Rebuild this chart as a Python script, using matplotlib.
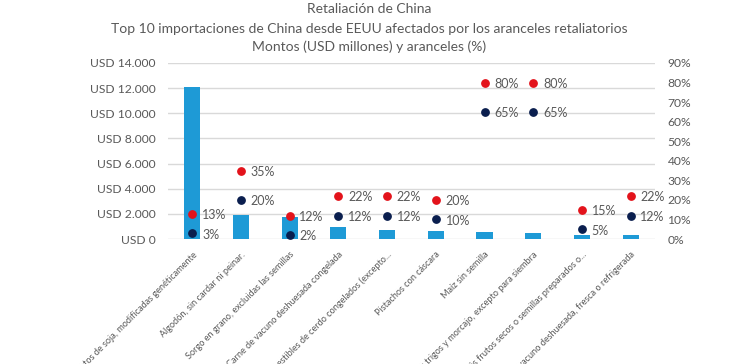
import matplotlib.pyplot as plt
import numpy as np

productos = [
    "Porotos de soja, modificadas genéticamente",
    "Algodón, sin cardar ni peinar.",
    "Sorgo en grano, excluidas las semillas",
    "Carne de vacuno deshuesada congelada",
    "Despojos comestibles de cerdo congelados (excepto...",
    "Pistachos con cáscara",
    "Maíz sin semilla",
    "Los demás trigos y morcajo, excepto para siembra",
    "Los demás frutos secos o semillas preparados o...",
    "Carne de vacuno deshuesada, fresca o refrigerada",
]
montos = [12050, 1900, 1780, 980, 720, 640, 580, 480, 320, 300]
arancel_alto = [13, 35, 12, 22, 22, 20, 80, 80, 15, 22]
arancel_bajo = [3, 20, 2, 12, 12, 10, 65, 65, 5, 12]

gris = "#595959"
azul = "#1E9AD6"
rojo = "#E3131B"
navy = "#0A1E4E"

plt.rcParams['font.family'] = ['Lato', 'DejaVu Sans']

fig = plt.figure(figsize=(7.39, 3.64), dpi=100)
ax = fig.add_axes([0.2273, 0.3434, 0.659, 0.4836])
x = np.arange(len(productos))

ax.bar(x, montos, width=0.33, color=azul, zorder=2)
ax.set_xlim(-0.5, 9.5)
ax.set_ylim(0, 14000)
ax.set_yticks(range(0, 14001, 2000))
ax.set_yticklabels(["USD " + f"{v:,}".replace(",", ".") for v in range(0, 14001, 2000)],
                   color=gris, fontsize=8.7)
ax.yaxis.grid(True, color="#D9D9D9", linewidth=1, zorder=0)
ax.set_axisbelow(True)
for s in ax.spines.values():
    s.set_visible(False)
ax.tick_params(length=0, pad=9)
ax.set_xticks(x)
ax.set_xticklabels(productos, rotation=45, ha='right', rotation_mode='anchor',
                   fontsize=6.6, color=gris)
ax.tick_params(axis='x', pad=8)

ax2 = ax.twinx()
ax2.set_ylim(0, 90)
ax2.set_yticks(range(0, 91, 10))
ax2.set_yticklabels([f"{v}%" for v in range(0, 91, 10)], color=gris, fontsize=8.7)
ax2.tick_params(length=0, pad=9)
for s in ax2.spines.values():
    s.set_visible(False)

ax2.scatter(x, arancel_alto, s=28, color=rojo, zorder=3)
ax2.scatter(x, arancel_bajo, s=28, color=navy, zorder=3)
for xi, a, b in zip(x, arancel_alto, arancel_bajo):
    ax2.annotate(f"{a}%", (xi, a), xytext=(7, -1), textcoords="offset points",
                 va='center', ha='left', fontsize=9, color=gris)
    ax2.annotate(f"{b}%", (xi, b), xytext=(7, -1), textcoords="offset points",
                 va='center', ha='left', fontsize=9, color=gris)

fig.text(0.5, 0.975, "Retaliación de China", ha='center', va='center', fontsize=10, color=gris)
fig.text(0.5, 0.921, "Top 10 importaciones de China desde EEUU afectados por los aranceles retaliatorios",
         ha='center', va='center', fontsize=10, color=gris)
fig.text(0.5, 0.873, "Montos (USD millones) y aranceles (%)", ha='center', va='center',
         fontsize=10, color=gris)

fig.savefig("out.png", dpi=100)
